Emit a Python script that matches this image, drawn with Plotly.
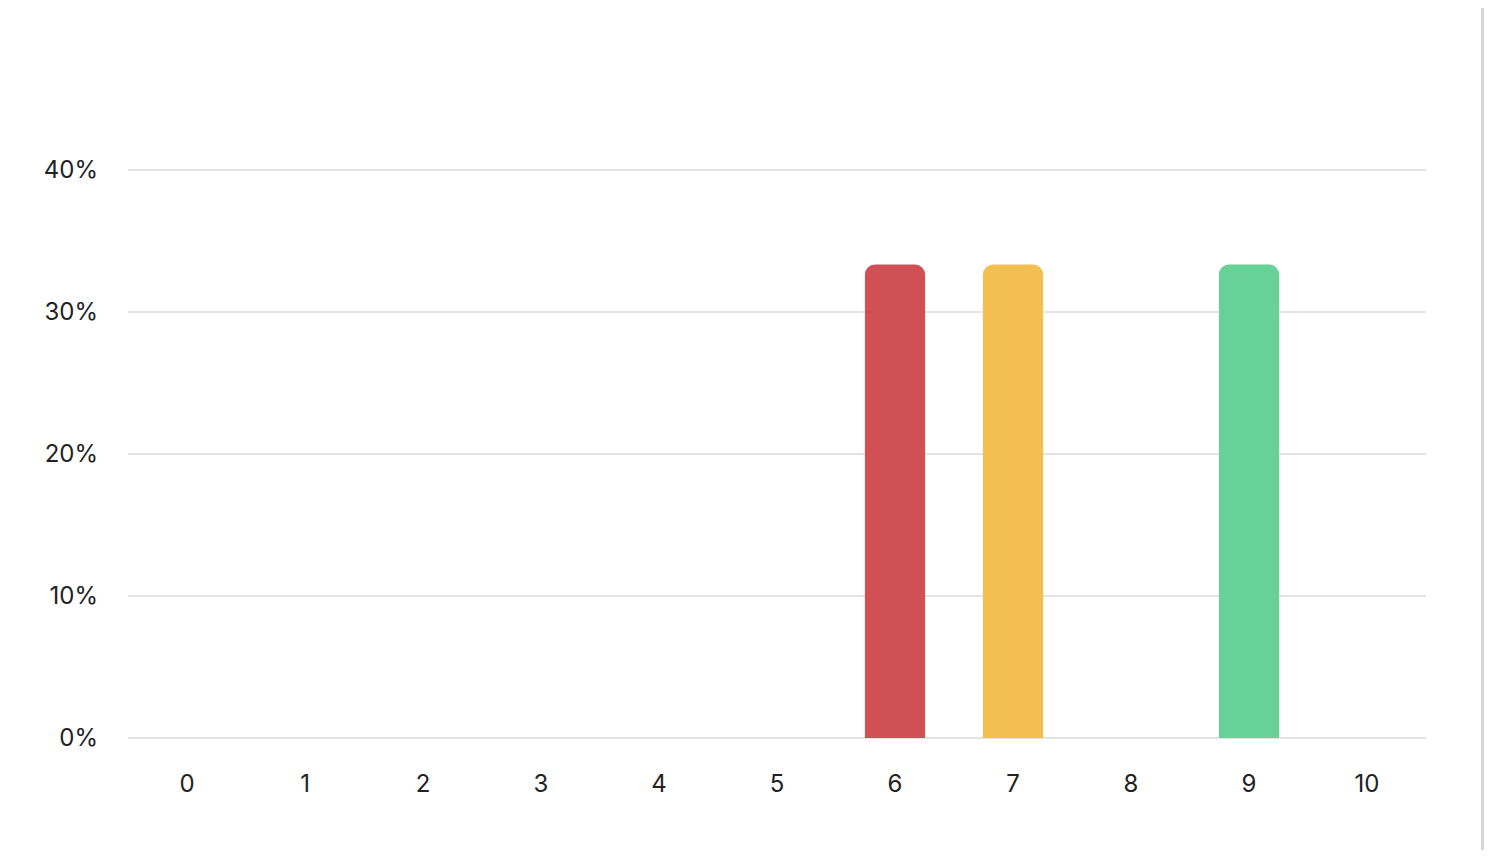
import plotly.graph_objects as go

categories = ["0", "1", "2", "3", "4", "5", "6", "7", "8", "9", "10"]
values = [0, 0, 0, 0, 0, 0, 33.33, 33.33, 0, 33.33, 0]
bar_colors = ["#d05055", "#d05055", "#d05055", "#d05055", "#d05055", "#d05055",
              "#d05055", "#f2bf50", "#f2bf50", "#67d196", "#67d196"]
y_ticks = [0, 10, 20, 30, 40]
y_labels = ["0%", "10%", "20%", "30%", "40%"]

W, H = 1476, 842
ml, mr, mt, mb = 120, 58, 159, 112

fig = go.Figure(go.Bar(
    x=categories, y=values,
    marker=dict(color=bar_colors, cornerradius=10, line=dict(width=0)),
    width=0.51,
    hoverinfo="skip",
))

font = dict(family="Inter, 'Noto Sans', sans-serif", size=24, color="#222222")

fig.update_layout(
    width=W, height=H,
    margin=dict(l=ml, r=mr, t=mt, b=mb, pad=0),
    paper_bgcolor="#ffffff", plot_bgcolor="#ffffff",
    showlegend=False,
    font=font,
    xaxis=dict(type="category", range=[-0.5, 10.5], showgrid=False, zeroline=False,
               showline=False, ticks="", tickfont=font, ticklabelstandoff=29, fixedrange=True),
    yaxis=dict(range=[0, 40.2], tickvals=y_ticks, ticktext=y_labels, showgrid=True,
               gridcolor="#e4e4e4", gridwidth=1.5, zeroline=True, zerolinecolor="#e4e4e4",
               zerolinewidth=1.5, showline=False, ticks="", tickfont=font,
               ticklabelstandoff=29, fixedrange=True),
)

plot_w = W - ml - mr
plot_h = H - mt - mb
xl = (W - 1.5 - ml) / plot_w
fig.add_shape(type="line", xref="paper", yref="paper",
              x0=xl, x1=xl, y0=-mb / plot_h, y1=(H - mb) / plot_h,
              line=dict(color="#d6d6d6", width=3), layer="above")

fig.write_html("out.html")
